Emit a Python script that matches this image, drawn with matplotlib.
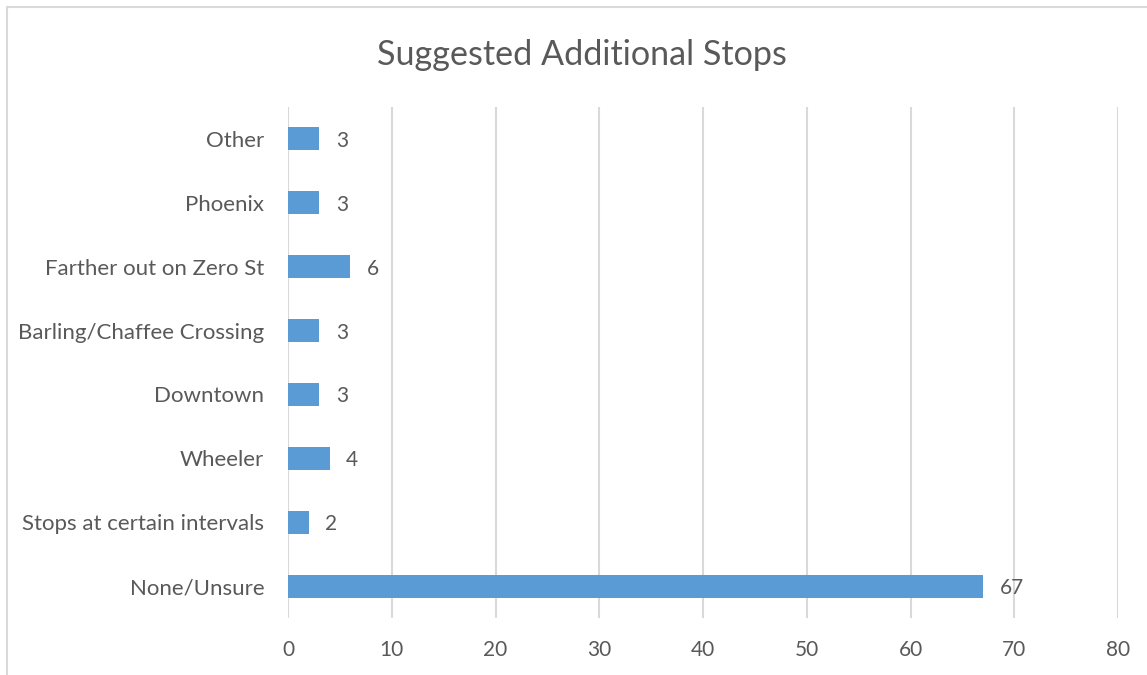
import matplotlib
matplotlib.use("Agg")
import matplotlib.pyplot as plt
from matplotlib.patches import Rectangle

categories = ["None/Unsure", "Stops at certain intervals", "Wheeler", "Downtown",
              "Barling/Chaffee Crossing", "Farther out on Zero St", "Phoenix", "Other"]
counts = [67, 2, 4, 3, 3, 6, 3, 3]
x_ticks = [0, 10, 20, 30, 40, 50, 60, 70, 80]

plt.rcParams["font.family"] = ["Lato", "DejaVu Sans"]
text_color = "#595959"
grid_color = "#d9d9d9"
bar_color = "#5b9bd5"

W, H = 1147, 675
fig = plt.figure(figsize=(W / 100, H / 100), dpi=100)

# chart frame (runs off the right and bottom edges)
fig.patches.append(Rectangle((7 / W, -0.05), 1.1, 1.05 - 7 / H,
                             transform=fig.transFigure, fill=False,
                             edgecolor=grid_color, linewidth=1.5))

ax = fig.add_axes([288 / W, 1 - 618 / H, (1118 - 288) / W, (618 - 107) / H])
pos = list(range(len(categories)))
ax.barh(pos, counts, height=0.36, color=bar_color, zorder=3)
for p, v in zip(pos, counts):
    ax.annotate(str(v), (v, p), xytext=(12, 0), textcoords="offset points",
                ha="left", va="center_baseline", fontsize=15, color=text_color)

ax.set_xlim(0, 80)
ax.set_ylim(-0.5, len(categories) - 0.5)
ax.set_xticks(x_ticks)
ax.set_yticks(pos)
ax.set_yticklabels(categories, va="center_baseline")
ax.tick_params(axis="both", length=0, labelsize=15, colors=text_color)
ax.tick_params(axis="y", labelsize=16, pad=17)
ax.tick_params(axis="x", pad=16)
ax.grid(axis="x", color=grid_color, linewidth=1.5, zorder=0)
for s in ax.spines.values():
    s.set_visible(False)

fig.text(582 / W, 1 - 52 / H, "Suggested Additional Stops", ha="center",
         va="center_baseline", fontsize=24.6, color=text_color)

fig.savefig("out.png", dpi=100)
